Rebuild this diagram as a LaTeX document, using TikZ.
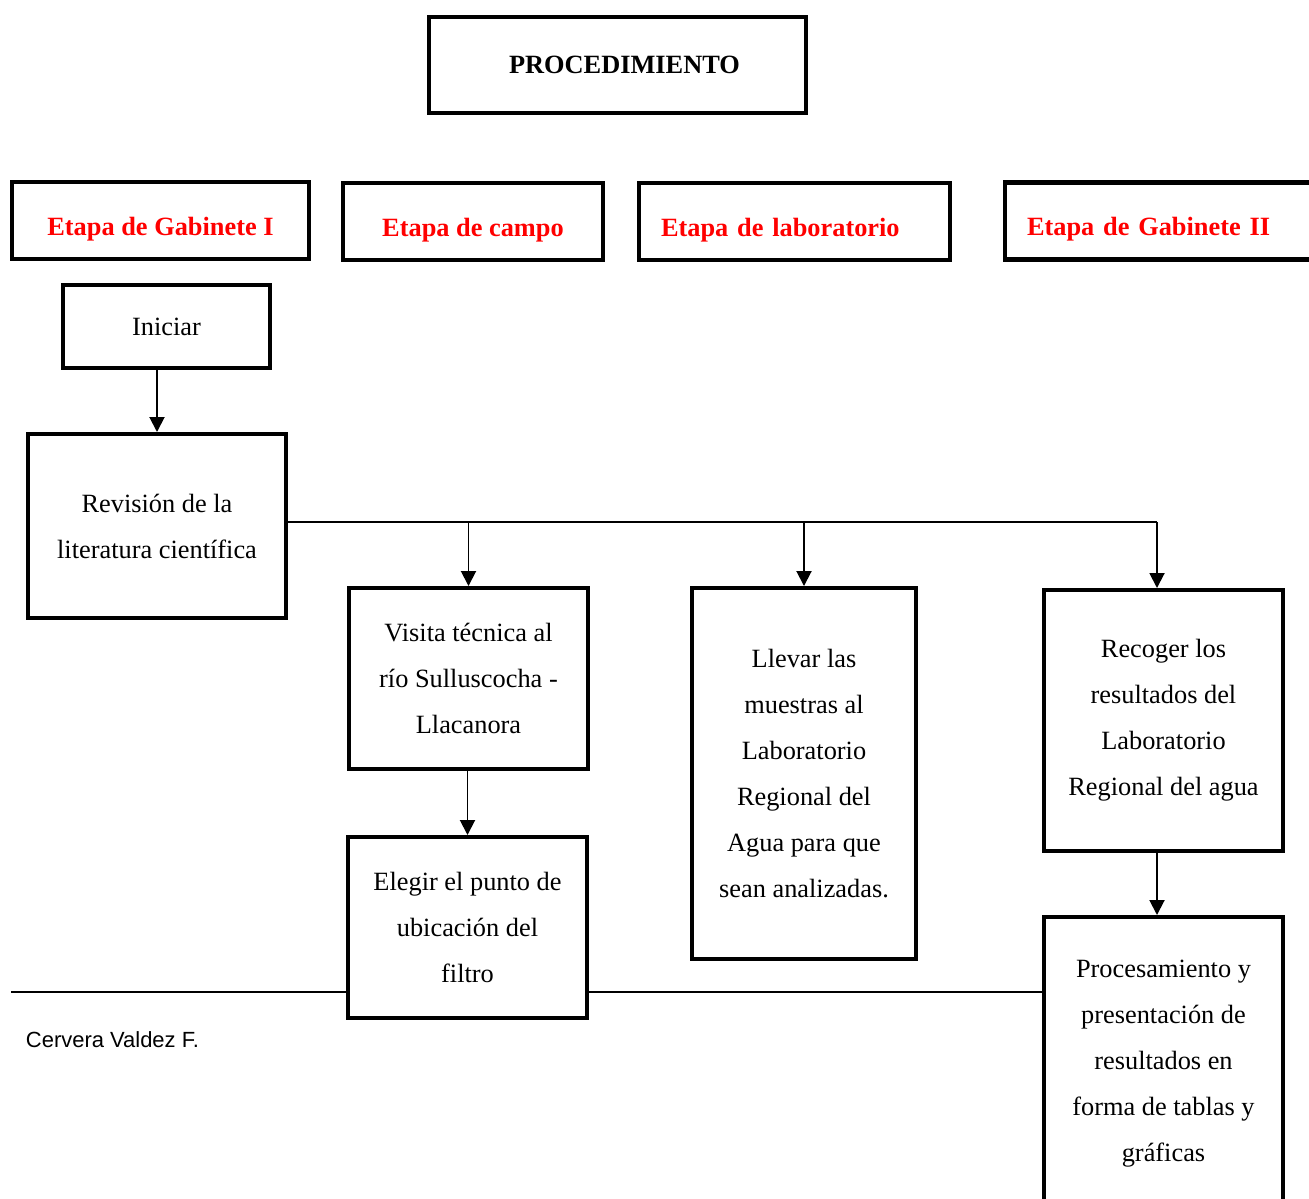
\documentclass[tikz,border=0pt]{standalone}
\usepackage{fontspec}
\setmainfont{Liberation Serif}
\newfontfamily\arialf{Liberation Sans}
\usetikzlibrary{arrows.meta}
\definecolor{etaparoja}{RGB}{255,0,0}

\tikzset{
  caja/.style={draw, line width=2.3pt, fill=white, inner sep=0pt, align=center,
    font=\fontsize{15}{26.2}\selectfont},
  etapa/.style={caja, text=etaparoja, text height=17pt, text depth=0pt, minimum height=1.54cm,
    font=\fontsize{15}{18}\selectfont\bfseries},
  etapaizq/.style={etapa, align=left, inner xsep=0.44cm},
}

\begin{document}
\begin{tikzpicture}[x=0.02cm, y=-0.02cm, >={Triangle[length=0.3cm,width=0.3cm]}, line width=1.1pt]
\useasboundingbox (0,0) rectangle (1309,1198);
\clip (0,0) rectangle (1309,1198);

\node[caja, font=\fontsize{15}{18}\selectfont\bfseries, minimum width=7.54cm, minimum height=1.92cm] (procedimiento) at (617.5,65) {\hspace*{0.28cm}PROCEDIMIENTO};

\node[etapa, minimum width=5.94cm] (gabinete1) at (160.5,220.5) {Etapa de Gabinete I};
\node[etapa, minimum width=5.2cm] (campo) at (473,221.5) {Etapa de campo};
\node[etapaizq, text width=5.34cm] (laboratorio) at (794.5,221.5) {Etapa de laboratorio};
\node[etapaizq, text width=5.38cm] (gabinete2) at (1161.5,221) {Etapa de Gabinete II};

\node[caja, minimum width=4.14cm, minimum height=1.66cm] (iniciar) at (166.5,326.5) {Iniciar};
\node[caja, minimum width=5.16cm, minimum height=3.68cm] (revision) at (157,526) {Revisión de la\\literatura científica};

\node[caja, minimum width=4.78cm, minimum height=3.62cm] (visita) at (468.5,678.5) {Visita técnica al\\río Sulluscocha -\\Llacanora};
\node[caja, minimum width=4.48cm, minimum height=7.42cm] (llevar) at (804,773.5) {Llevar las\\muestras al\\Laboratorio\\Regional del\\Agua para que\\sean analizadas.};
\node[caja, minimum width=4.78cm, minimum height=5.22cm] (recoger) at (1163.5,720.5) {Recoger los\\resultados del\\Laboratorio\\Regional del agua};
\node[caja, minimum width=4.78cm, minimum height=5.88cm] (procesamiento) at (1163.5,1064) {Procesamiento y\\presentación de\\resultados en\\forma de tablas y\\gráficas};

\coordinate (corte) at (11,992);
\draw (corte) -- (corte -| procesamiento.west);

\node[caja, minimum width=4.78cm, minimum height=3.62cm] (elegir) at (467.5,927.5) {Elegir el punto de\\ubicación del\\filtro};

\node[anchor=west, inner sep=0pt, font=\arialf\fontsize{12.5}{14}\selectfont] (autor) at (25,1040) {Cervera Valdez F.};

\coordinate (bus) at (1157,522);
\draw (revision.east |- bus) -- (bus);

\path[->] (revision.north |- iniciar.south) edge (revision.north);
\path[->] (visita.north |- bus) edge (visita.north);
\path[->] (llevar.north |- bus) edge (llevar.north);
\path[->] (bus) edge (bus |- recoger.north);
\path[->] (elegir.north |- visita.south) edge (elegir.north);
\path[->] (bus |- recoger.south) edge (bus |- procesamiento.north);
\end{tikzpicture}
\end{document}
